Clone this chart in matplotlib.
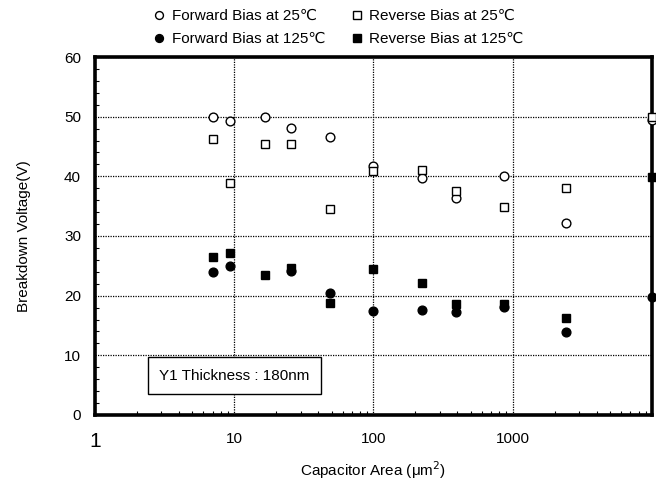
import matplotlib
matplotlib.use("Agg")
import matplotlib.pyplot as plt
from matplotlib.ticker import FixedLocator, NullFormatter, MultipleLocator

plt.rcParams['font.family'] = ['Liberation Sans', 'DejaVu Sans']

# Data
area = [7.0, 9.3, 16.6, 25.5, 49, 100, 223, 390, 870, 2400, 10000]
fwd25 = [50.0, 49.3, 50.0, 48.1, 46.6, 41.7, 39.8, 36.4, 40.1, 32.1, 49.5]
rev25 = [46.2, 38.8, 45.4, 45.4, 34.5, 40.9, 41.0, 37.5, 34.8, 38.0, 49.9]
fwd125 = [23.9, 25.0, None, 24.2, 20.5, 17.4, 17.6, 17.3, 18.1, 13.9, 19.7]
rev125 = [26.4, 27.2, 23.5, 24.7, 18.8, 24.5, 22.1, 18.6, 18.6, 16.3, 39.9]

labels = ['Forward Bias at 25\u2103', 'Forward Bias at 125\u2103',
          'Reverse Bias at 25\u2103', 'Reverse Bias at 125\u2103']
xticks = [1, 10, 100, 1000]
xticklabels = ['1', '10', '100', '1000']
yticks = [0, 10, 20, 30, 40, 50, 60]

fig = plt.figure(figsize=(6.56, 4.84), dpi=100)
ax = fig.add_axes([0.1448, 0.1426, 0.8491, 0.7396])
ax.set_xscale('log')
ax.set_xlim(1, 10000)
ax.set_ylim(0, 60)

def pts(xs, ys):
    px, py = [], []
    for a, b in zip(xs, ys):
        if b is not None:
            px.append(a); py.append(b)
    return px, py

h1, = ax.plot(*pts(area, fwd25), 'o', ms=6.3, mfc='white', mec='black', mew=1.0, ls='none', clip_on=False, zorder=5)
h2, = ax.plot(*pts(area, fwd125), 'o', ms=6.3, mfc='black', mec='black', ls='none', clip_on=False, zorder=5)
h3, = ax.plot(*pts(area, rev25), 's', ms=6.3, mfc='white', mec='black', mew=1.0, ls='none', clip_on=False, zorder=5)
h4, = ax.plot(*pts(area, rev125), 's', ms=6.3, mfc='black', mec='black', ls='none', clip_on=False, zorder=5)

# grid
ax.xaxis.set_major_locator(FixedLocator(xticks))
ax.set_xticklabels(xticklabels)
ax.yaxis.set_major_locator(FixedLocator(yticks))
ax.yaxis.set_minor_locator(MultipleLocator(2))
ax.xaxis.set_minor_locator(FixedLocator([m * d for d in [1, 10, 100, 1000] for m in range(2, 10)]))
ax.xaxis.set_minor_formatter(NullFormatter())
ax.grid(True, which='major', color='black', linestyle=(0, (1, 1)), linewidth=0.9)
ax.tick_params(axis='both', which='major', direction='in', length=0, labelsize=11)
ax.tick_params(axis='x', which='major', pad=12)
ax.tick_params(axis='y', which='major', pad=10)
ax.tick_params(axis='both', which='minor', direction='in', length=3, width=0.8)
for lab in ax.get_xticklabels():
    if lab.get_text() == '1':
        lab.set_fontsize(15)

for s in ax.spines.values():
    s.set_linewidth(2.6)

ax.set_ylabel('Breakdown Voltage(V)', fontsize=11, labelpad=24)
ax.set_xlabel('Capacitor Area ($\\mathregular{\\mu}$m$^{2}$)', fontsize=11, labelpad=6)

ax.text(0.115, 0.11, 'Y1 Thickness : 180nm', transform=ax.transAxes, fontsize=11,
        va='center', ha='left',
        bbox=dict(boxstyle='square,pad=0.75', facecolor='white', edgecolor='black', linewidth=1.0))

fig.legend([h1, h2, h3, h4], labels, loc='upper center', bbox_to_anchor=(0.515, 1.01),
           ncol=2, frameon=False, fontsize=11, handletextpad=0.3, columnspacing=1.6,
           labelspacing=0.6, handlelength=1.0, markerscale=0.9)

fig.savefig('out.png', dpi=100)
